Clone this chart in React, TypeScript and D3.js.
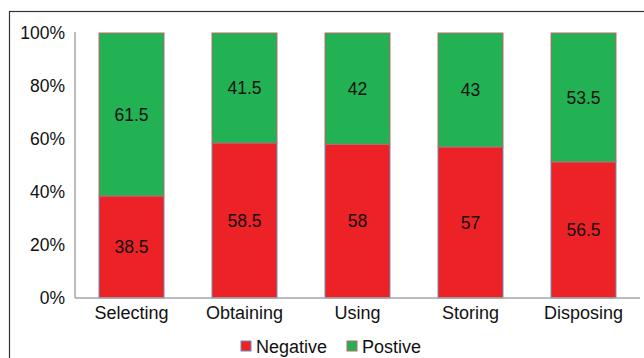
import React from "react";
import * as d3 from "d3";

const categories = ["Selecting", "Obtaining", "Using", "Storing", "Disposing"];
const negative = [38.5, 58.5, 58, 57, 56.5];
const positive = [61.5, 41.5, 42, 43, 53.5];
const seriesNames = ["Negative", "Postive"];
const yTicks = [0, 0.2, 0.4, 0.6, 0.8, 1];

const colors = ["#ED2227", "#22B153"];
const strokes = ["#6F8BB5", "#B86A6A"];

export default function App() {
  const W = 644, H = 358;
  const left = 75, right = 640, top = 33, bottom = 298;
  const rows = categories.map((c, i) => ({ cat: c, Negative: negative[i], Postive: positive[i] }));
  const stack = d3.stack<any>().keys(seriesNames).offset(d3.stackOffsetExpand);
  const layers = stack(rows);
  const x = d3.scaleBand().domain(categories).range([left, right]).paddingInner(0.425).paddingOuter(0.2125);
  const y = d3.scaleLinear().domain([0, 1]).range([bottom, top]);
  const font = "'Liberation Sans', Arial, sans-serif";
  const valueArrays = [negative, positive];

  return (
    <svg width={W} height={H} style={{ position: "absolute", left: 0, top: 0 }} fontFamily={font}>
      <rect x={0} y={0} width={W} height={H} fill="#fff" />
      <rect x={9.5} y={11.5} width={660} height={380} fill="none" stroke="#333" strokeWidth={1.2} />
      {layers.map((layer, li) =>
        layer.map((d, i) => {
          const x0 = x(categories[i])!;
          const y0 = y(d[1]);
          const h = y(d[0]) - y(d[1]);
          return (
            <g key={`${li}-${i}`}>
              <rect x={x0} y={y0} width={x.bandwidth()} height={h} fill={colors[li]} stroke={strokes[li]} strokeWidth={1} />
              <text x={x0 + x.bandwidth() / 2} y={y0 + h / 2} dy="0.35em" textAnchor="middle" fontSize={17.5} fill="#111">
                {valueArrays[li][i]}
              </text>
            </g>
          );
        })
      )}
      <line x1={left} x2={left} y1={top - 1} y2={bottom} stroke="#A6A6A6" strokeWidth={1.5} />
      <line x1={left} x2={right} y1={bottom} y2={bottom} stroke="#A6A6A6" strokeWidth={1.5} />
      {yTicks.map((t) => (
        <text key={t} x={65} y={y(t)} dy="0.35em" textAnchor="end" fontSize={17.5} fill="#111">
          {d3.format(".0%")(t)}
        </text>
      ))}
      {categories.map((c) => (
        <text key={c} x={x(c)! + x.bandwidth() / 2} y={319} textAnchor="middle" fontSize={18} fill="#111">
          {c}
        </text>
      ))}
      {seriesNames.map((s, i) => {
        const lx = [241, 347][i];
        return (
          <g key={s}>
            <rect x={lx} y={341} width={10} height={10} fill={colors[i]} stroke={strokes[i]} strokeWidth={1} />
            <text x={lx + 15} y={353} fontSize={18} fill="#111">{s}</text>
          </g>
        );
      })}
    </svg>
  );
}
